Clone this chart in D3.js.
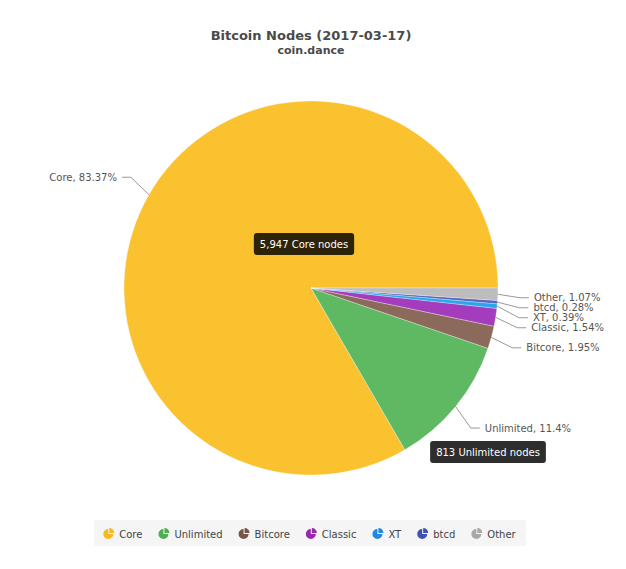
<!DOCTYPE html>
<html lang="en">
<head>
  <meta charset="UTF-8">
  <title>Bitcoin Nodes</title>
  <script src="https://cdn.jsdelivr.net/npm/d3@7"></script>
  <style>
    body { margin: 0; background: #fff; }
    text { font-family: "DejaVu Sans", Verdana, sans-serif; }
  </style>
</head>
<body>
  <script>
    const categories = ["Core", "Unlimited", "Bitcore", "Classic", "XT", "btcd", "Other"];
    const nodes = [5947, 813, 139, 110, 28, 20, 76];
    const sliceColors = ["#f9c22e", "#5fb962", "#8b6a5b", "#a43dbd", "#2aa4ec", "#5565c2", "#bdbdbd"];
    const legendColors = ["#f9b91e", "#4caf50", "#795548", "#9c27b0", "#1e88e5", "#3f51b5", "#a8a8a8"];
    const balloons = [
      { name: "Core", dx: -7, dy: -44 },
      { name: "Unlimited", dx: 177, dy: 164 }
    ];

    const width = 626, height = 569;
    const cx = 311, cy = 288, radius = 187;

    const svg = d3.select("body").append("svg")
      .attr("width", width)
      .attr("height", height);

    // titles
    svg.append("text")
      .attr("x", cx).attr("y", 40)
      .attr("text-anchor", "middle")
      .attr("font-size", 13).attr("font-weight", "bold")
      .attr("fill", "#4a4a4a")
      .text("Bitcoin Nodes (2017-03-17)");
    svg.append("text")
      .attr("x", cx).attr("y", 54)
      .attr("text-anchor", "middle")
      .attr("font-size", 11).attr("font-weight", "bold")
      .attr("fill", "#4a4a4a")
      .text("coin.dance");

    const data = categories.map((c, i) => ({ name: c, value: nodes[i], i: i }));
    const total = d3.sum(nodes);

    // counter-clockwise from 3 o'clock
    const pie = d3.pie()
      .value(d => d.value)
      .sort(null)
      .startAngle(Math.PI / 2)
      .endAngle(Math.PI / 2 - 2 * Math.PI);

    const arcs = pie(data);
    const arc = d3.arc().innerRadius(0).outerRadius(radius);

    const g = svg.append("g").attr("transform", `translate(${cx},${cy})`);

    g.selectAll("path.slice")
      .data(arcs)
      .join("path")
      .attr("class", "slice")
      .attr("d", arc)
      .attr("fill", d => sliceColors[d.data.i])
      .attr("stroke", "#fff")
      .attr("stroke-opacity", 0.5)
      .attr("stroke-width", 0.6);

    // label layout
    const fmtPct = v => {
      const p = v / total * 100;
      return (+p.toFixed(2)).toString() + "%";
    };
    const labelR = radius + 30;
    const labels = arcs.map(a => {
      const mid = (a.startAngle + a.endAngle) / 2;
      const sx = Math.sin(mid), sy = -Math.cos(mid);
      const side = sx >= 0 ? 1 : -1;
      return {
        a: a,
        side: side,
        ex: radius * sx, ey: radius * sy,
        bx: labelR * sx, y: labelR * sy + (side > 0 ? 2.5 : -2.5)
      };
    });
    // keep right-side labels apart
    const right = labels.filter(l => l.side > 0).sort((p, q) => p.y - q.y);
    for (let k = 1; k < right.length; k++) {
      if (right[k].y - right[k - 1].y < 10) right[k].y = right[k - 1].y + 10;
    }

    const lab = g.selectAll("g.lab").data(labels).join("g").attr("class", "lab");
    lab.append("polyline")
      .attr("points", d => {
        const mx = d.bx - d.side * 8;
        return [[d.ex, d.ey], [mx, d.y], [d.bx + d.side * 1, d.y]].map(p => p.join(",")).join(" ");
      })
      .attr("fill", "none")
      .attr("stroke", "#999")
      .attr("stroke-width", 1);
    lab.append("text")
      .attr("x", d => d.bx + d.side * 6)
      .attr("y", d => d.y)
      .attr("dy", "0.35em")
      .attr("text-anchor", d => d.side > 0 ? "start" : "end")
      .attr("font-size", 10)
      .attr("fill", "#555")
      .text(d => `${d.a.data.name}, ${fmtPct(d.a.data.value)}`);

    // balloons
    const fmtN = d3.format(",");
    balloons.forEach(b => {
      const d = data.find(x => x.name === b.name);
      const bg = g.append("g").attr("transform", `translate(${b.dx},${b.dy})`);
      const t = bg.append("text")
        .attr("text-anchor", "middle")
        .attr("dy", "0.35em")
        .attr("font-size", 10)
        .attr("fill", "#fff")
        .text(`${fmtN(d.value)} ${d.name} nodes`);
      const w = t.node().getComputedTextLength() + 12;
      bg.insert("rect", "text")
        .attr("x", -w / 2).attr("y", -11)
        .attr("width", w).attr("height", 22)
        .attr("rx", 3)
        .attr("fill", "#000")
        .attr("fill-opacity", 0.82);
    });

    // legend
    const legend = svg.append("g");
    const legBg = legend.append("rect").attr("fill", "#f5f5f5");
    const items = legend.selectAll("g.item").data(data).join("g").attr("class", "item");
    const iconArc = d3.arc().innerRadius(0).outerRadius(5);
    items.append("path")
      .attr("d", iconArc({ startAngle: Math.PI / 2, endAngle: 2 * Math.PI }))
      .attr("fill", (d, i) => legendColors[i]);
    items.append("path")
      .attr("d", iconArc({ startAngle: 0, endAngle: Math.PI / 2 }))
      .attr("transform", "translate(1,-1)")
      .attr("fill", (d, i) => legendColors[i]);
    items.append("text")
      .attr("x", 11)
      .attr("dy", "0.35em")
      .attr("font-size", 10)
      .attr("fill", "#444")
      .text(d => d.name);

    let xPos = 0;
    items.each(function () {
      const w = d3.select(this).select("text").node().getComputedTextLength();
      d3.select(this).attr("transform", `translate(${xPos},0)`);
      xPos += 11 + w + 21;
    });
    const legW = xPos - 21;
    const legX = cx - legW / 2 + 1, legY = 534;
    legend.attr("transform", `translate(${legX},${legY})`);
    legBg.attr("x", -14).attr("y", -14).attr("width", legW + 24).attr("height", 26);
  </script>
</body>
</html>
